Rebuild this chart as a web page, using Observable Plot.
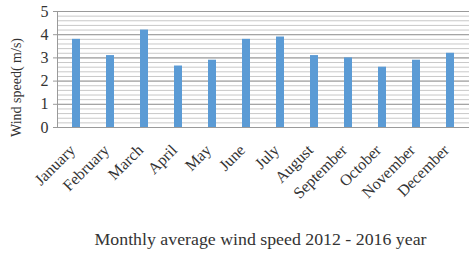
<!DOCTYPE html>
<html>
<head>
<meta charset="utf-8">
<script src="https://cdn.jsdelivr.net/npm/d3@7"></script>
<script src="https://cdn.jsdelivr.net/npm/@observablehq/plot@0.6"></script>
<style>
  html, body { margin: 0; padding: 0; background: #fff; }
  svg { display: block; }
  svg text { font-family: 'Liberation Serif', 'DejaVu Serif', serif; }
</style>
</head>
<body>
<div id="chart"></div>
<script>
const months = ["January","February","March","April","May","June","July","August","September","October","November","December"];
const speeds = [3.8, 3.1, 4.2, 2.65, 2.9, 3.8, 3.9, 3.1, 3.0, 2.6, 2.9, 3.2];
const yTicks = [0, 1, 2, 3, 4, 5];
const title = "Monthly average wind speed 2012 - 2016 year";
const yLabel = "Wind speed( m/s)";

const data = months.map((m, i) => ({month: m, speed: speeds[i]}));
const serif = "'Liberation Serif', 'DejaVu Serif', serif";

const chart = Plot.plot({
  width: 469,
  height: 259,
  marginLeft: 57,
  marginRight: 0,
  marginTop: 11,
  marginBottom: 132,
  style: {fontFamily: serif, background: "#fff", color: "#333"},
  x: {domain: months, padding: 0, label: null},
  y: {domain: [0, 5], label: null},
  marks: [
    Plot.gridY({interval: 0.2, stroke: "#c8c8c8", strokeOpacity: 1, strokeWidth: 1}),
    Plot.gridY({ticks: yTicks, stroke: "#9a9a9a", strokeOpacity: 1, strokeWidth: 1}),
    Plot.barY(data, {x: "month", y: "speed", fill: "#5b9bd5", insetLeft: 13, insetRight: 13}),
    Plot.frame({anchor: "left", stroke: "#9a9a9a"}),
    Plot.axisY({ticks: yTicks, tickFormat: d => String(d), tickSize: 4, tickPadding: 5, fontSize: 16, stroke: "#9a9a9a", label: null}),
    Plot.axisX({tickSize: 0, tickPadding: 17, tickRotate: -45, fontSize: 16, dx: -4, dy: 3, label: null}),
    Plot.text([yLabel], {frameAnchor: "left", textAnchor: "middle", dx: -41, dy: 18, rotate: -90, fontSize: 14, fill: "#333", text: d => d}),
    Plot.text([title], {frameAnchor: "bottom", textAnchor: "middle", dy: 117, dx: -3, fontSize: 16, fill: "#333", text: d => d})
  ]
});
document.getElementById("chart").appendChild(chart);
// stretch the caption to the reference's width
d3.select(chart).selectAll("text").filter(function () { return this.textContent === title; })
  .attr("textLength", 332).attr("lengthAdjust", "spacingAndGlyphs");
</script>
</body>
</html>
